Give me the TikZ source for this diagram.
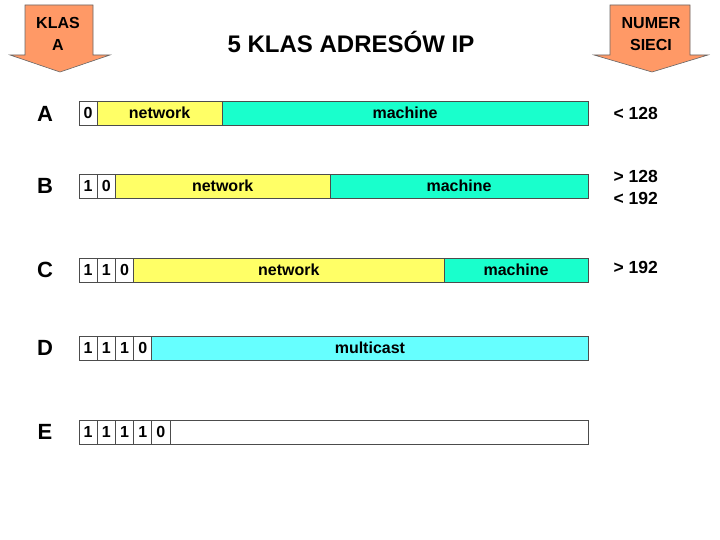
\documentclass[tikz,border=0pt]{standalone}
\usepackage{fontspec}
\setmainfont{Liberation Sans}
\begin{document}
\begin{tikzpicture}[x=1pt,y=-1pt,
  every node/.style={font=\fontsize{16}{18}\selectfont\bfseries},
  cell/.style={draw=black!70, line width=0.9pt, anchor=north west, inner sep=0pt, outer sep=0pt, minimum height=24pt},
  bit/.style={cell, fill=white, minimum width=18.2pt},
  net/.style={cell, fill=netyellow},
  mach/.style={cell, fill=machgreen},
  mcast/.style={cell, fill=mcastcyan},
  klasa/.style={font=\fontsize{22}{24}\selectfont\bfseries},
  bigarrow/.style={draw=black!60, line width=0.6pt, fill=arroworange},
  arrowtxt/.style={font=\fontsize{16}{22}\selectfont\bfseries, align=center},
  numtxt/.style={anchor=west, font=\fontsize{17.5}{20}\selectfont\bfseries}
]
\definecolor{netyellow}{HTML}{FFFF66}
\definecolor{machgreen}{HTML}{19FFCC}
\definecolor{mcastcyan}{HTML}{66FFFF}
\definecolor{arroworange}{HTML}{FF9966}
\path[use as bounding box] (0,0) rectangle (720,540);

% top arrows
\draw[bigarrow] (25,5) -- (93,5) -- (93,55) -- (110,55) -- (60,72) -- (10,55) -- (25,55) -- cycle;
\node[arrowtxt] (klasa) at (58,34) {KLAS\\A};
\draw[bigarrow] (610,5) -- (690,5) -- (690,55) -- (708,55) -- (652,72) -- (594,55) -- (610,55) -- cycle;
\node[arrowtxt] (numer) at (651,34) {NUMER\\SIECI};

\node[font=\fontsize{24}{28}\selectfont\bfseries] (title) at (351,42) {5 KLAS ADRESÓW IP};

% class labels
\node[klasa] (lA) at (45,114) {A};
\node[klasa] (lB) at (45,186) {B};
\node[klasa] (lC) at (45,270) {C};
\node[klasa] (lD) at (45,348) {D};
\node[klasa] (lE) at (45,432) {E};

% row A
\node[bit] (a1) at (79,101) {0};
\node[net, minimum width=124.8pt] (aN) at (97.2,101) {network};
\node[mach, minimum width=366pt] (aM) at (222,101) {machine};

% row B
\node[bit] (b1) at (79,174) {1};
\node[bit] (b2) at (97.2,174) {0};
\node[net, minimum width=214.6pt] (bN) at (115.4,174) {network};
\node[mach, minimum width=258pt] (bM) at (330,174) {machine};

% row C
\node[bit] (c1) at (79,258) {1};
\node[bit] (c2) at (97.2,258) {1};
\node[bit] (c3) at (115.4,258) {0};
\node[net, minimum width=310.4pt] (cN) at (133.6,258) {network};
\node[mach, minimum width=144pt] (cM) at (444,258) {machine};

% row D
\node[bit] (d1) at (79,336) {1};
\node[bit] (d2) at (97.2,336) {1};
\node[bit] (d3) at (115.4,336) {1};
\node[bit] (d4) at (133.6,336) {0};
\node[mcast, minimum width=436.2pt] (dM) at (151.8,336) {multicast};

% row E
\node[bit] (e1) at (79,420) {1};
\node[bit] (e2) at (97.2,420) {1};
\node[bit] (e3) at (115.4,420) {1};
\node[bit] (e4) at (133.6,420) {1};
\node[bit] (e5) at (151.8,420) {0};
\node[cell, fill=white, minimum width=418pt] (eR) at (170,420) {};

% network numbers
\node[numtxt] (nA) at (610,113) {< 128};
\node[numtxt] (nB1) at (610,176) {> 128};
\node[numtxt] (nB2) at (610,198) {< 192};
\node[numtxt] (nC) at (610,267) {> 192};
\end{tikzpicture}
\end{document}
